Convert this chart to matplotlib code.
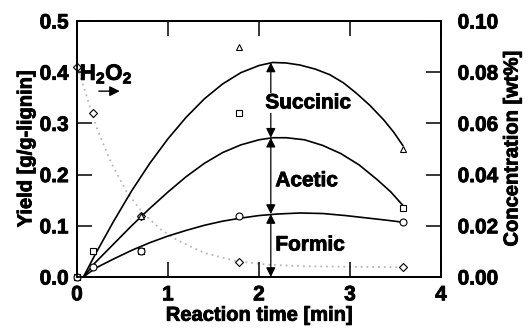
import matplotlib
matplotlib.use("Agg")
import matplotlib.pyplot as plt
import matplotlib.patheffects as pe
from matplotlib.text import Text

plt.rcParams["font.family"] = "Liberation Sans"
plt.rcParams["font.weight"] = "bold"
plt.rcParams["axes.labelweight"] = "bold"
plt.rcParams["mathtext.fontset"] = "custom"
plt.rcParams["mathtext.bf"] = "Liberation Sans:bold"
plt.rcParams["mathtext.rm"] = "Liberation Sans:bold"

# measured points
times = [0, 0.18, 0.7, 1.78, 3.58]
total_yield = [0, 0.05, 0.12, 0.45, 0.25]        # triangles (formic+acetic+succinic)
acetic_cum = [0, 0.05, 0.05, 0.32, 0.135]        # squares (formic+acetic)
formic_yield = [0, 0.02, 0.05, 0.12, 0.107]      # circles
h2o2_conc = [0.082, 0.064, 0.024, 0.0057, 0.0038]  # diamonds, right axis

# model curves
succ_t = [0.07, 0.2, 0.4, 0.6, 0.8, 1.0, 1.2, 1.4, 1.6, 1.8, 2.0, 2.15, 2.3,
          2.45, 2.62, 2.78, 2.93, 3.07, 3.22, 3.37, 3.48, 3.58]
succ_y = [0, 0.044, 0.108, 0.168, 0.222, 0.27, 0.312, 0.348, 0.377, 0.399,
          0.413, 0.419, 0.418, 0.414, 0.406, 0.395, 0.379, 0.359, 0.335,
          0.307, 0.283, 0.257]
acet_t = [0.07, 0.2, 0.4, 0.6, 0.8, 1.0, 1.2, 1.4, 1.6, 1.8, 2.0, 2.15, 2.3,
          2.5, 2.7, 2.9, 3.1, 3.3, 3.45, 3.58]
acet_y = [0, 0.028, 0.064, 0.100, 0.134, 0.166, 0.196, 0.222, 0.243, 0.258,
          0.268, 0.272, 0.272, 0.268, 0.257, 0.241, 0.219, 0.19, 0.166, 0.14]
form_t = [0.07, 0.2, 0.4, 0.6, 0.8, 1.0, 1.2, 1.4, 1.6, 1.8, 2.0, 2.2, 2.45,
          2.7, 2.95, 3.2, 3.4, 3.58]
form_y = [0, 0.017, 0.035, 0.052, 0.067, 0.080, 0.091, 0.101, 0.109, 0.115,
          0.12, 0.123, 0.125, 0.124, 0.12, 0.115, 0.111, 0.107]
h2o2_t = [0, 0.05, 0.12, 0.22, 0.37, 0.55, 0.73, 0.92, 1.1, 1.4, 1.75, 2.1,
          2.5, 3.0, 3.58]
h2o2_y = [0.082, 0.077, 0.069, 0.058, 0.045, 0.033, 0.0248, 0.0186, 0.0144,
          0.0094, 0.0062, 0.0048, 0.0042, 0.004, 0.0038]

# stacked-band arrows at t = 2.13
band_t = 2.13
band_edges = [0, 0.123, 0.272, 0.419]
band_names = ["Formic", "Acetic", "Succinic"]
band_label_y = [0.0625, 0.188, 0.34]

fig = plt.figure(figsize=(5.32, 3.36), dpi=100)
ax = fig.add_axes([0.1447, 0.1756, 0.6842, 0.7619])
ax2 = ax.twinx()

ax2.plot(h2o2_t, h2o2_y, color="#b8b8b8", lw=1.3, ls=(0, (1, 2.2)), zorder=1)
ax2.plot(times, h2o2_conc, ls="none", marker="D", ms=3.6, mfc="white",
         mec="black", mew=0.8, clip_on=False, zorder=3)
ax2.set_ylim(0, 0.10)
ax2.set_yticks([0, 0.02, 0.04, 0.06, 0.08, 0.10])
ax2.set_yticklabels(["0.00", "0.02", "0.04", "0.06", "0.08", "0.10"])
ax2.set_ylabel("Concentration [wt%]", fontsize=14.5, fontweight="bold",
               rotation=90, labelpad=3)

ax.set_zorder(ax2.get_zorder() + 1)
ax.patch.set_visible(False)

for t, y in [(succ_t, succ_y), (acet_t, acet_y), (form_t, form_y)]:
    ax.plot(t, y, color="black", lw=1.2, zorder=2)

ax.plot(times, total_yield, ls="none", marker="^", ms=5, mfc="white",
        mec="black", mew=0.8, clip_on=False)
ax.plot(times, acetic_cum, ls="none", marker="s", ms=5, mfc="white",
        mec="black", mew=0.8, clip_on=False)
ax.plot(times, formic_yield, ls="none", marker="o", ms=5, mfc="white",
        mec="black", mew=0.8, clip_on=False)

for lo, hi in zip(band_edges[:-1], band_edges[1:]):
    ax.annotate("", xy=(band_t, hi), xytext=(band_t, lo),
                arrowprops=dict(arrowstyle="<|-|>", color="black", lw=0.9,
                                mutation_scale=14, shrinkA=0, shrinkB=0))

ax.text(2.18, band_label_y[0], band_names[0], fontsize=15, fontweight="bold",
        va="center", ha="left")
ax.text(2.18, band_label_y[1], band_names[1], fontsize=15, fontweight="bold",
        va="center", ha="left")
ax.text(2.07, band_label_y[2], band_names[2], fontsize=15, fontweight="bold",
        va="center", ha="left",
        bbox=dict(facecolor="white", edgecolor="none", pad=0.5))

ax.text(0.03, 0.385, r"$\mathbf{H_2O_2}$", fontsize=16, va="baseline", ha="left")
ax.annotate("", xy=(0.47, 0.363), xytext=(0.24, 0.363),
            arrowprops=dict(arrowstyle="-|>", color="black", lw=1.0,
                            mutation_scale=15, shrinkA=0, shrinkB=0))

ax.set_xlim(0, 4)
ax.set_ylim(0, 0.5)
ax.set_xticks([0, 1, 2, 3, 4])
ax.set_yticks([0, 0.1, 0.2, 0.3, 0.4, 0.5])
ax.set_yticklabels(["0.0", "0.1", "0.2", "0.3", "0.4", "0.5"])
ax.set_xlabel("Reaction time [min]", fontsize=14.5, fontweight="bold", labelpad=1)
ax.set_ylabel("Yield [g/g-lignin]", fontsize=14.5, fontweight="bold", labelpad=3)

ax.tick_params(axis="x", direction="in", length=10.5, width=1.1, top=True,
               labelsize=15, pad=6)
ax.tick_params(axis="y", direction="in", length=10.5, width=1.1,
               labelsize=15, pad=6)
ax2.tick_params(axis="y", direction="in", length=10.5, width=1.1,
                labelsize=15, pad=12)
for a in (ax, ax2):
    for s in a.spines.values():
        s.set_linewidth(1.3)
    for lab in a.get_xticklabels() + a.get_yticklabels():
        lab.set_fontweight("bold")

# heavier strokes, like the original's rendering
for t in fig.findobj(Text):
    if t.get_text():
        t.set_path_effects([pe.withStroke(linewidth=0.6, foreground="black")])

fig.savefig("out.png", dpi=100)
